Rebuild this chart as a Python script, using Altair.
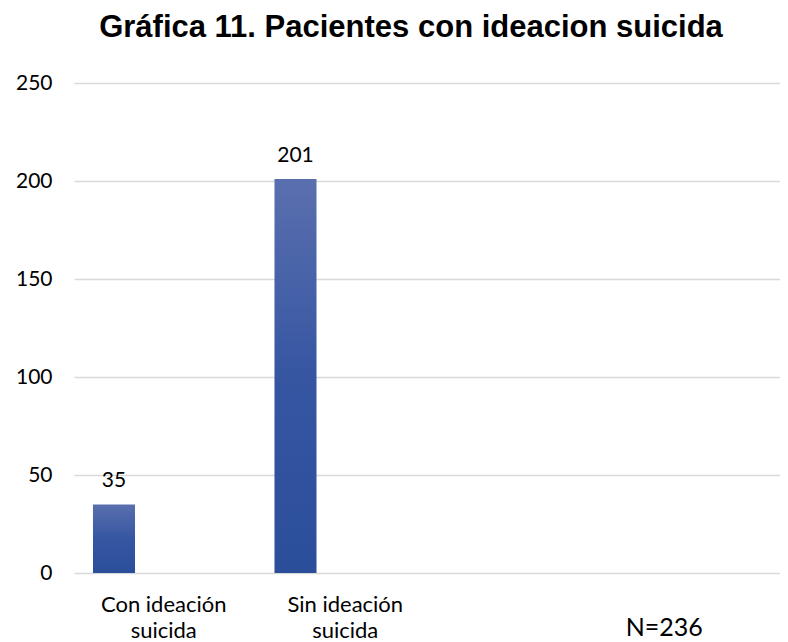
import altair as alt
import pandas as pd

categories = ["Con ideación suicida", "Sin ideación suicida", " ", "N=236"]
bar_categories = ["Con ideación suicida", "Sin ideación suicida"]
values = [35, 201]
series = ["Pacientes", "(vacío)"]
y_ticks = [0, 50, 100, 150, 200, 250]

df = pd.DataFrame({"categoria": bar_categories, "pacientes": values, "serie": [series[0]] * len(values)})

label_expr = (
    "datum.value == 'N=236' ? 'N=236' : "
    "(indexof(datum.value, ' suicida') > 0 ? [replace(datum.value, ' suicida', ''), 'suicida'] : '')"
)

x = alt.X(
    "categoria:N",
    scale=alt.Scale(domain=categories, paddingInner=0, paddingOuter=0, range=[0, 726]),
    axis=alt.Axis(
        title=None, labelAngle=0, domain=False, ticks=False, grid=False,
        labelExpr=label_expr, labelFont="Lato", labelColor="#000000",
        labelLineHeight=26,
        labelFontSize={"condition": {"test": "datum.value == 'N=236'", "value": 25}, "value": 22},
        labelPadding={"condition": {"test": "datum.value == 'N=236'", "value": 42}, "value": 21},
        labelOffset={"condition": {"test": "datum.value == 'N=236'", "value": -45}, "value": -1},
    ),
)
xoff = alt.XOffset("serie:N", scale=alt.Scale(domain=series, paddingInner=0.586, paddingOuter=0.187))
y = alt.Y(
    "pacientes:Q",
    scale=alt.Scale(domain=[0, 250]),
    axis=alt.Axis(
        values=y_ticks, title=None, domain=False, ticks=False,
        gridColor="#d9d9d9", gridWidth=1.5,
        labelFont="Lato", labelFontSize=21, labelPadding=22, labelColor="#000000",
    ),
)

gradient = alt.Gradient(
    gradient="linear",
    stops=[alt.GradientStop(color="#5a6fae", offset=0),
           alt.GradientStop(color="#3656a2", offset=0.5),
           alt.GradientStop(color="#2b4e9b", offset=1)],
    x1=0, x2=0, y1=0, y2=1,
)

bars = alt.Chart(df).mark_bar(color=gradient).encode(x=x, xOffset=xoff, y=y)
labels = alt.Chart(df).mark_text(dy=-17, baseline="alphabetic", fontSize=21, font="Lato", color="#000000").encode(
    x=x, xOffset=xoff, y=y, text="pacientes:Q"
)

chart = alt.layer(bars, labels).properties(
    width=706, height=490,
    autosize="none",
    padding={"left": 66, "top": 75, "right": 0, "bottom": 69},
    title=alt.Title(
        "Gráfica 11. Pacientes con ideacion suicida",
        font="Liberation Sans", fontSize=31, fontWeight="bold", color="#000000",
        anchor="middle", dx=-16, offset=28,
    ),
).configure_view(stroke=None)

chart.save("out.html", embed_options={"renderer": "svg", "actions": False})
